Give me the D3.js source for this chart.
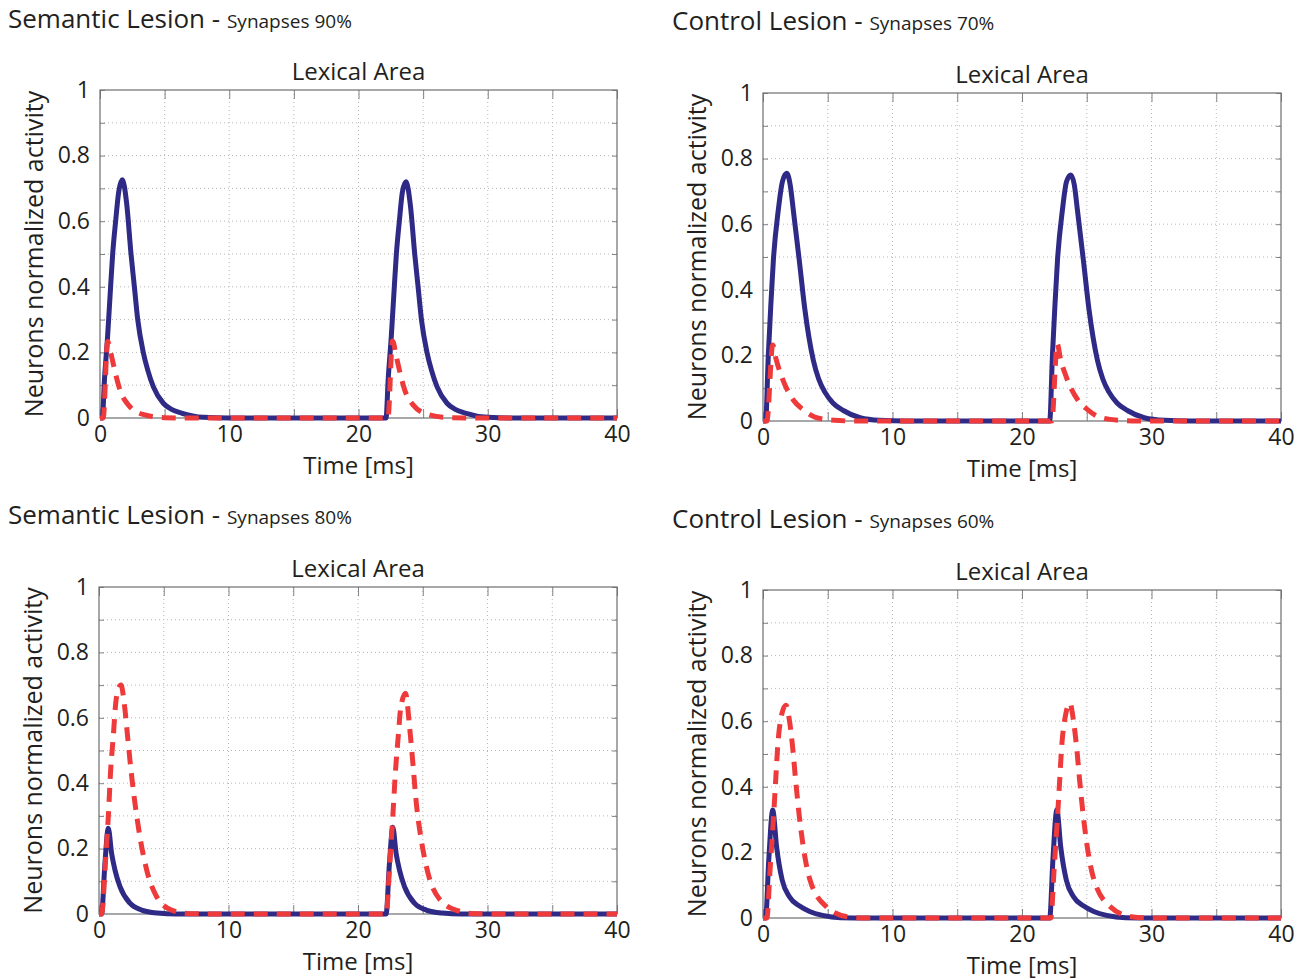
<!DOCTYPE html>
<html lang="en">
<head>
<meta charset="utf-8">
<script src="https://d3js.org/d3.v7.min.js"></script>
<style>
  body { margin: 0; background: #fff; }
  text { font-family: "Open Sans", sans-serif; fill: #231f20; }
</style>
</head>
<body>
<svg id="chart" width="1306" height="980"></svg>
<script>
// ticks / labels
const xTicks = [0, 5, 10, 15, 20, 25, 30, 35, 40]
const xLabels = [0, 10, 20, 30, 40]
const yTicks = [0, 0.1, 0.2, 0.3, 0.4, 0.5, 0.6, 0.7, 0.8, 0.9, 1]
const yLabels = [0, 0.2, 0.4, 0.6, 0.8, 1]

const titles = ['Semantic Lesion', 'Control Lesion', 'Semantic Lesion', 'Control Lesion']
const subtitles = ['Synapses 90%', 'Synapses 70%', 'Synapses 80%', 'Synapses 60%']
const areaName = 'Lexical Area'
const xTitle = 'Time [ms]'
const yTitle = 'Neurons normalized activity'

// [time ms, activity]
const sem90Blue = [[0,0],[0.18,0],[0.35,0.12],[0.59,0.25],[0.82,0.40],[0.98,0.50],[1.21,0.60],[1.45,0.69],[1.73,0.726],[2.06,0.655],[2.40,0.50],[2.66,0.40],[2.92,0.30],[3.35,0.20],[3.7,0.145],[4.13,0.095],[4.9,0.045],[5.5,0.027],[6.3,0.015],[8,0.002],[10,0],
  [22.13,0],[22.3,0.12],[22.54,0.25],[22.77,0.40],[22.93,0.50],[23.16,0.60],[23.40,0.69],[23.68,0.72],[24.01,0.65],[24.35,0.50],[24.61,0.40],[24.87,0.30],[25.30,0.20],[25.65,0.145],[26.08,0.095],[26.85,0.045],[27.45,0.027],[28.25,0.015],[30,0.002],[32,0],[40,0]]
const sem90Red = [[0,0],[0.25,0],[0.59,0.233],[0.9,0.187],[1.2,0.135],[1.55,0.085],[2.19,0.04],[3.4,0.01],[5,0.001],[7,0],
  [22.28,0],[22.63,0.235],[22.93,0.187],[23.23,0.135],[23.58,0.085],[24.22,0.04],[25.43,0.01],[27,0.001],[29,0],[40,0]]

const con70Blue = [[0,0],[0.2,0],[0.41,0.20],[0.6,0.35],[0.80,0.49],[1.18,0.643],[1.5,0.73],[1.83,0.755],[2.1,0.72],[2.34,0.643],[2.8,0.49],[3.24,0.338],[3.88,0.186],[4.3,0.128],[4.78,0.088],[5.4,0.055],[6.2,0.032],[7.5,0.01],[9,0.002],[11,0],
  [22.14,0],[22.35,0.20],[22.54,0.35],[22.74,0.49],[23.12,0.643],[23.44,0.73],[23.77,0.75],[24.04,0.72],[24.28,0.643],[24.74,0.49],[25.18,0.338],[25.82,0.186],[26.24,0.128],[26.72,0.088],[27.34,0.055],[28.14,0.032],[29.44,0.01],[31,0.002],[33,0],[40,0]]
const con70Red = [[0,0],[0.3,0],[0.75,0.232],[1.0,0.19],[1.44,0.135],[2.34,0.064],[3.11,0.034],[4,0.012],[5.5,0.002],[7,0],
  [22.3,0],[22.72,0.235],[22.97,0.19],[23.41,0.135],[24.31,0.064],[25.08,0.034],[25.97,0.012],[27.5,0.002],[29,0],[40,0]]

const sem80Blue = [[0,0],[0.2,0],[0.45,0.15],[0.72,0.262],[0.97,0.186],[1.23,0.135],[1.62,0.084],[2.39,0.033],[3.3,0.012],[4.5,0.003],[6,0],
  [22.17,0],[22.42,0.15],[22.69,0.265],[22.94,0.186],[23.2,0.135],[23.59,0.084],[24.36,0.033],[25.27,0.012],[26.5,0.003],[28,0],[40,0]]
const sem80Red = [[0,0],[0.2,0],[0.5,0.16],[0.72,0.298],[0.90,0.44],[1.10,0.542],[1.29,0.644],[1.5,0.69],[1.70,0.70],[1.95,0.644],[2.21,0.542],[2.47,0.44],[2.78,0.338],[3.16,0.236],[3.68,0.135],[4.45,0.053],[5.6,0.012],[7,0.001],[9,0],
  [22.17,0],[22.45,0.15],[22.69,0.3],[22.9,0.44],[23.1,0.54],[23.3,0.63],[23.67,0.675],[23.98,0.573],[24.24,0.46],[24.5,0.34],[24.88,0.228],[25.4,0.126],[26.3,0.045],[27.7,0.01],[29,0.001],[31,0],[40,0]]

const con60Blue = [[0,0],[0.2,0],[0.45,0.18],[0.75,0.329],[1.05,0.217],[1.48,0.116],[2.04,0.065],[2.8,0.037],[3.6,0.02],[4.6,0.008],[6,0.001],[8,0],
  [22.14,0],[22.39,0.18],[22.69,0.33],[22.99,0.217],[23.42,0.116],[23.98,0.065],[24.74,0.037],[25.54,0.02],[26.54,0.008],[28,0.001],[30,0],[40,0]]
const con60Red = [[0,0],[0.3,0],[0.55,0.15],[0.8,0.30],[0.98,0.42],[1.13,0.52],[1.44,0.62],[1.77,0.649],[2.05,0.6],[2.29,0.52],[2.52,0.42],[2.78,0.319],[3.11,0.217],[3.63,0.116],[4.9,0.034],[6.5,0.004],[8,0],
  [22.23,0],[22.48,0.15],[22.73,0.30],[22.91,0.42],[23.06,0.52],[23.37,0.62],[23.7,0.655],[23.98,0.6],[24.22,0.52],[24.45,0.42],[24.71,0.319],[25.04,0.217],[25.56,0.116],[26.83,0.034],[28.43,0.004],[30,0],[40,0]]

const blueSeries = [sem90Blue, con70Blue, sem80Blue, con60Blue]
const redSeries = [sem90Red, con70Red, sem80Red, con60Red]

// plot boxes (left, top, right, bottom) and title origin
const boxes = [
    {l: 100, t: 90, r: 617, b: 418, tx: 8, ty: 28},
    {l: 763, t: 93, r: 1281, b: 421, tx: 672, ty: 30},
    {l: 99, t: 587, r: 617, b: 914, tx: 8, ty: 524},
    {l: 763, t: 590, r: 1281, b: 918, tx: 672, ty: 528}
]

const BLUE = '#2e2a85'
const RED = '#ee3a3a'

const svg = d3.select('#chart')

boxes.forEach((bx, i) => draw(bx, i))

function draw(bx, i) {
    const x = d3.scaleLinear().domain([0, 40]).range([bx.l, bx.r])
    const y = d3.scaleLinear().domain([0, 1]).range([bx.b, bx.t])
    const g = svg.append('g')

    // panel heading
    const head = g.append('text').attr('x', bx.tx).attr('y', bx.ty)
    head.append('tspan').attr('font-size', 26).text(titles[i] + ' - ')
    head.append('tspan').attr('font-size', 19).text(subtitles[i])

    // dotted grid
    g.append('g').selectAll('line').data(xTicks.slice(1, -1)).enter().append('line')
        .attr('x1', d => x(d)).attr('x2', d => x(d))
        .attr('y1', bx.t).attr('y2', bx.b)
        .attr('stroke', '#b8b8b8').attr('stroke-width', 1).attr('stroke-dasharray', '1,3')
    g.append('g').selectAll('line').data(yTicks.slice(1, -1)).enter().append('line')
        .attr('x1', bx.l).attr('x2', bx.r)
        .attr('y1', d => y(d)).attr('y2', d => y(d))
        .attr('stroke', '#b8b8b8').attr('stroke-width', 1).attr('stroke-dasharray', '1,3')

    // inward ticks on all four sides
    const tickAxes = [
        [d3.axisBottom(x).tickValues(xTicks).tickSize(-9), `translate(0,${bx.b})`],
        [d3.axisTop(x).tickValues(xTicks).tickSize(-9), `translate(0,${bx.t})`],
        [d3.axisLeft(y).tickValues(yTicks).tickSize(-5), `translate(${bx.l},0)`],
        [d3.axisRight(y).tickValues(yTicks).tickSize(-5), `translate(${bx.r},0)`]
    ]
    tickAxes.forEach(([ax, tr]) => {
        const a = g.append('g').attr('transform', tr).call(ax.tickFormat(''))
        a.select('.domain').remove()
        a.selectAll('line').attr('stroke', '#808285')
    })

    // tick labels
    const xl = g.append('g').attr('transform', `translate(0,${bx.b})`)
        .call(d3.axisBottom(x).tickValues(xLabels).tickSize(0).tickPadding(8))
    const yl = g.append('g').attr('transform', `translate(${bx.l},0)`)
        .call(d3.axisLeft(y).tickValues(yLabels).tickSize(0).tickPadding(10)
            .tickFormat(d => (d === 0 || d === 1) ? d : d.toFixed(1)))
    ;[xl, yl].forEach(a => {
        a.select('.domain').remove()
        a.selectAll('text').attr('font-size', 23).attr('fill', '#231f20')
            .attr('font-family', '"Open Sans", sans-serif')
    })

    // frame
    g.append('rect').attr('x', bx.l).attr('y', bx.t)
        .attr('width', bx.r - bx.l).attr('height', bx.b - bx.t)
        .attr('fill', 'none').attr('stroke', '#6d6e71').attr('stroke-width', 1.2)

    // titles
    g.append('text').attr('x', (bx.l + bx.r) / 2).attr('y', bx.t - 10)
        .attr('text-anchor', 'middle').attr('font-size', 24).text(areaName)
    g.append('text').attr('x', (bx.l + bx.r) / 2).attr('y', bx.b + 56)
        .attr('text-anchor', 'middle').attr('font-size', 24).text(xTitle)
    g.append('text')
        .attr('transform', `translate(${bx.l - 57},${(bx.t + bx.b) / 2}) rotate(-90)`)
        .attr('text-anchor', 'middle').attr('font-size', 25).text(yTitle)

    // curves
    const line = d3.line().x(d => x(d[0])).y(d => y(d[1])).curve(d3.curveMonotoneX)
    g.append('path').datum(blueSeries[i]).attr('d', line)
        .attr('fill', 'none').attr('stroke', BLUE).attr('stroke-width', 5)
        .attr('stroke-linejoin', 'round')
    g.append('path').datum(redSeries[i]).attr('d', line)
        .attr('fill', 'none').attr('stroke', RED).attr('stroke-width', 5)
        .attr('stroke-dasharray', '14,9')
}
</script>
</body>
</html>
